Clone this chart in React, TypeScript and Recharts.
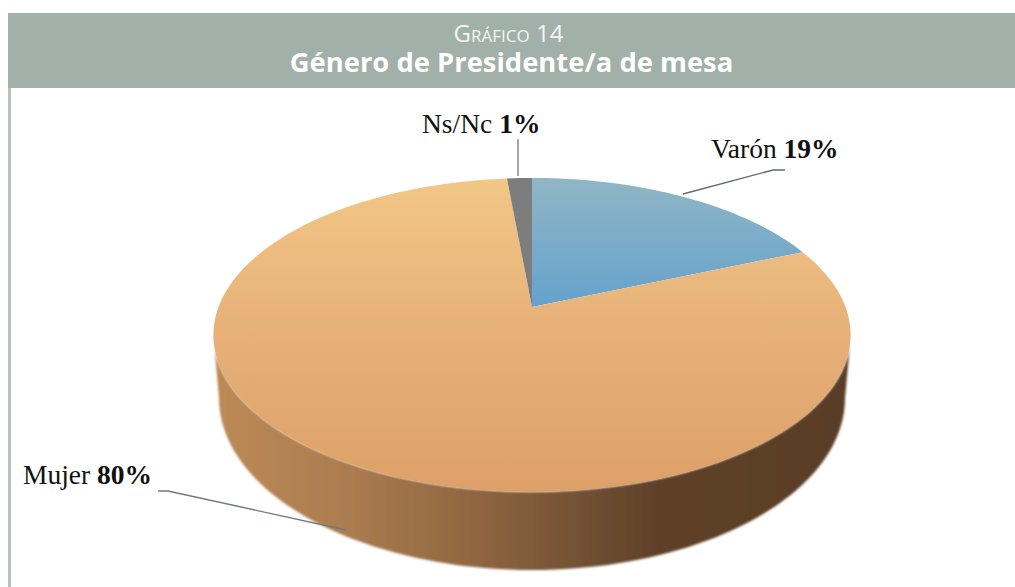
import React from "react";
import { PieChart, Pie } from "recharts";

const categories = ["Varón", "Mujer", "Ns/Nc"];
const sliceValues = [18.7, 79.8, 1.5];
const percentLabels = ["19%", "80%", "1%"];
const sliceFills = ["url(#varon)", "url(#mujer)", "#7d7d7d"];
const chartTitleTop = "Gráfico 14";
const chartTitle = "Género de Presidente/a de mesa";

const rows = categories.map((name, i) => ({ name, value: sliceValues[i], fill: sliceFills[i], pct: percentLabels[i] }));

const SQUASH = 152 / 313.5;
const TILT = 0.178;
const BASE_DROP = 91;
const BASE_RX = 0.9985;
const BASE_RY = 0.5486;

const project = (cx: number, cy: number, r: number, deg: number) => {
  const rad = (deg * Math.PI) / 180;
  const c = Math.sin(rad);
  const s = Math.cos(rad);
  const w = 1 + TILT * c;
  return { x: cx + (r * s) / w, y: cy - (r * SQUASH * c) / w };
};

const TiltedSlice = (p: any) => {
  const { cx, cy, outerRadius: r, startAngle, endAngle, fill, index } = p;
  const steps = Math.max(4, Math.ceil(Math.abs(endAngle - startAngle) / 1.5));
  const pts: { x: number; y: number }[] = [];
  for (let i = 0; i <= steps; i++) pts.push(project(cx, cy, r, startAngle + ((endAngle - startAngle) * i) / steps));
  const face = `M${cx},${cy}` + pts.map((q) => `L${q.x.toFixed(2)},${q.y.toFixed(2)}`).join("") + "Z";
  const tangent = (Math.asin(-TILT) * 180) / Math.PI;
  const lo = 180 - tangent;
  const hi = 360 + tangent;
  const from = Math.min(startAngle, endAngle);
  const to = Math.max(startAngle, endAngle);
  const front: { x: number; y: number }[] = [];
  for (let k = -1; k <= 1; k++) {
    for (let d = lo; d <= hi; d += 2) {
      const a = d + 360 * k;
      if (a >= from && a <= to) front.push(project(cx, cy, r, a));
    }
  }
  let wall = "";
  if (front.length > 1) {
    const base: { x: number; y: number }[] = [];
    for (let t = 0; t <= 180; t += 2) {
      const rad = (t * Math.PI) / 180;
      base.push({
        x: cx + r * BASE_RX * Math.cos(rad),
        y: cy + BASE_DROP + r * BASE_RY * Math.sin(rad),
      });
    }
    wall = "M" + [...front, ...base].map((q) => `${q.x.toFixed(2)},${q.y.toFixed(2)}`).join("L") + "Z";
  }
  return (
    <g key={index}>
      {wall && <path d={wall} fill="url(#wall)" filter="url(#softWall)" />}
      <path d={face} fill={fill} filter="url(#soft)" />
    </g>
  );
};

const labelPlacement: Record<string, { x: number; y: number; line: string; color: string }> = {
  Varón: { x: 711, y: 158, line: "M683,194L773,170L785,170", color: "#5f6b70" },
  Mujer: { x: 23, y: 484, line: "M158,491L168,491L346,530", color: "#6f7a80" },
  "Ns/Nc": { x: 422, y: 133, line: "M518,139L518,176", color: "#808080" },
};

const SliceLabel = (p: any) => {
  const name = p.name ?? p.payload?.name;
  const place = labelPlacement[name];
  if (!place) return null;
  return (
    <g>
      <path d={place.line} fill="none" stroke={place.color} strokeWidth={1.4} />
      <text x={place.x} y={place.y} fontFamily="'Liberation Serif'" fontSize={27.5} fill="#111">
        {name} <tspan fontWeight="bold">{p.pct ?? p.payload?.pct}</tspan>
      </text>
    </g>
  );
};

export default function App() {
  return (
    <div style={{ position: "absolute", left: 0, top: 0, width: 1015, height: 587, background: "#fff", overflow: "hidden" }}>
      <div style={{ position: "absolute", left: 8, top: 13, width: 1007, height: 75, background: "#a2b0aa", color: "#fff", textAlign: "center", fontFamily: "'Open Sans'" }}>
        <div style={{ position: "absolute", left: 0, width: 1001, top: 8, fontSize: 24, lineHeight: "24px", fontVariant: "small-caps", color: "#f2f5f3" }}>{chartTitleTop}</div>
        <div style={{ position: "absolute", left: 0, width: 1007, top: 34, fontSize: 27.4, lineHeight: "30px", fontWeight: 700 }}>{chartTitle}</div>
      </div>
      <div style={{ position: "absolute", left: 8, top: 88, width: 3, height: 499, background: "#b4c4bd" }} />
      <PieChart width={1015} height={587} margin={{ top: 0, right: 0, bottom: 0, left: 0 }} style={{ position: "absolute", left: 0, top: 0 }}>
        <defs>
          <linearGradient id="varon" x1="0" y1="0" x2="0" y2="1">
            <stop offset="0" stopColor="#90b6c5" />
            <stop offset="1" stopColor="#64a2cd" />
          </linearGradient>
          <linearGradient id="mujer" x1="0" y1="0" x2="0" y2="1">
            <stop offset="0" stopColor="#f2c786" />
            <stop offset="0.5" stopColor="#e6b078" />
            <stop offset="1" stopColor="#dda068" />
          </linearGradient>
          <linearGradient id="wall" x1="0" y1="0" x2="1" y2="0">
            <stop offset="0" stopColor="#bd8a55" />
            <stop offset="0.2" stopColor="#ac7d50" />
            <stop offset="0.42" stopColor="#8e6540" />
            <stop offset="0.59" stopColor="#6f4f33" />
            <stop offset="0.7" stopColor="#5f4028" />
            <stop offset="1" stopColor="#5a3e26" />
          </linearGradient>
          <filter id="soft" x="-5%" y="-5%" width="110%" height="110%">
            <feGaussianBlur stdDeviation="0.5" />
          </filter>
          <filter id="softWall" x="-5%" y="-5%" width="110%" height="110%">
            <feGaussianBlur stdDeviation="1" />
          </filter>
        </defs>
        <Pie
          data={rows}
          dataKey="value"
          nameKey="name"
          cx={532}
          cy={307}
          innerRadius={0}
          outerRadius={313.5}
          startAngle={90}
          endAngle={-270}
          stroke="none"
          shape={TiltedSlice}
          label={SliceLabel}
          labelLine={false}
          isAnimationActive={false}
        />
      </PieChart>
    </div>
  );
}
